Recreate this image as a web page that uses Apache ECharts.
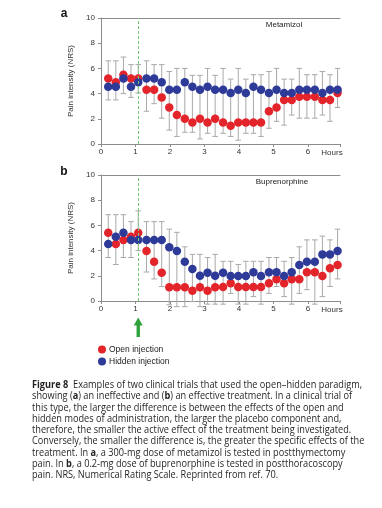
<!DOCTYPE html>
<html>
<head>
<meta charset="utf-8">
<script src="https://cdn.jsdelivr.net/npm/echarts@6/dist/echarts.min.js"></script>
<style>html,body{margin:0;padding:0;background:#fff}#c{width:382px;height:508px}</style>
</head>
<body>
<div id="c"></div>
<script>
// ---- data ----
const hours = [0.21,0.43,0.65,0.87,1.08,1.32,1.54,1.76,1.98,2.20,2.43,2.65,2.87,3.09,3.31,3.54,3.76,3.98,4.20,4.42,4.64,4.87,5.09,5.31,5.53,5.75,5.97,6.20,6.42,6.64,6.86];
const injectionHour = 1.08;
const xTicks = [0,1,2,3,4,5,6];
const yTicks = [0,2,4,6,8,10];
const seriesNames = ['Open injection','Hidden injection'];
const panelTitles = ['Metamizol','Buprenorphine'];

// panel a: metamizol
const openA   = [5.2,4.9,5.5,5.2,5.2,4.3,4.3,3.7,2.9,2.3,2.0,1.7,2.0,1.7,2.0,1.7,1.45,1.7,1.7,1.7,1.7,2.6,2.9,3.5,3.5,3.75,3.75,3.75,3.5,3.5,4.05];
const hiddenA = [4.55,4.55,5.2,4.55,4.9,5.2,5.2,4.9,4.3,4.3,4.9,4.55,4.3,4.55,4.3,4.3,4.05,4.3,4.05,4.55,4.3,4.05,4.3,4.05,4.05,4.3,4.3,4.3,4.05,4.3,4.3];
const errTopA = [6.6,6.6,6.9,6.3,6.3,6.6,6.3,6.3,5.75,6.0,6.0,5.45,5.45,6.0,5.45,6.0,5.15,6.0,5.15,5.5,5.5,5.75,6.0,5.15,5.15,6.0,5.5,5.5,5.75,5.5,6.0];
const errBotA = [3.5,3.5,4.0,3.7,4.05,2.6,3.2,2.05,1.1,0.6,0.93,0.93,0.4,0.85,0.6,0.85,0.6,0.3,0.85,0.85,0.6,1.25,1.8,1.5,2.3,2.05,2.05,2.05,2.3,1.8,2.9];

// panel b: buprenorphine
const openB   = [5.42,4.52,4.84,5.1,5.42,3.97,3.12,2.25,1.09,1.09,1.09,0.82,1.09,0.82,1.09,1.12,1.4,1.12,1.12,1.12,1.12,1.4,1.72,1.4,1.72,1.72,2.28,2.28,1.98,2.6,2.86];
const hiddenB = [4.52,5.1,5.42,4.84,4.84,4.84,4.84,4.84,4.26,3.97,3.12,2.54,2.0,2.25,2.0,2.25,1.98,1.98,1.98,2.28,1.98,2.28,2.28,1.98,2.28,2.86,3.12,3.12,3.7,3.7,3.97];
const errTopB = [6.85,6.85,6.85,6.3,7.15,6.3,6.3,6.3,5.7,5.45,4.3,3.7,3.7,3.45,3.7,3.15,3.15,2.9,3.15,3.15,3.15,3.45,3.45,3.15,3.45,4.3,4.85,4.85,5.15,4.85,5.7];
const errBotB = [3.45,2.9,3.45,3.45,4.0,2.3,1.75,1.15,-0.3,-0.45,-0.45,-0.05,-0.45,-0.25,-0.25,-0.25,0.6,-0.25,-0.25,0.35,-0.25,0.6,1.15,0.35,-0.25,0.6,0.9,-0.25,0.35,1.15,1.75];

const captionLines = [
  '{b|Figure 8}  Examples of two clinical trials that used the open\u2013hidden paradigm,',
  'showing ({b|a}) an ineffective and ({b|b}) an effective treatment. In a clinical trial of',
  'this type, the larger the difference is between the effects of the open and',
  'hidden modes of administration, the larger the placebo component and,',
  'therefore, the smaller the active effect of the treatment being investigated.',
  'Conversely, the smaller the difference is, the greater the specific effects of the',
  'treatment. In {b|a}, a 300-mg dose of metamizol is tested in postthymectomy',
  'pain. In {b|b}, a 0.2-mg dose of buprenorphine is tested in postthoracoscopy',
  'pain. NRS, Numerical Rating Scale. Reprinted from ref. 70.'
];

// ---- chart ----
const RED = '#e3242b', BLUE = '#2e3a98', GREY = '#a9a9a9', AXIS = '#8c8c8c';
const FONT = 'Liberation Sans';
const XMAX = 6.93;
const chart = echarts.init(document.getElementById('c'), null, {renderer:'canvas'});

const grids = [
  {left:101, top:18, width:239, height:126},
  {left:101, top:175, width:239, height:126}
];

function xAxisFor(gi){
  return {type:'value', gridIndex:gi, min:0, max:XMAX, interval:1,
    axisLine:{lineStyle:{color:AXIS, width:1}},
    axisTick:{show:true, length:3, lineStyle:{color:AXIS}},
    axisLabel:{color:'#333', fontSize:8, fontFamily:FONT, margin:4,
      formatter:v => xTicks.indexOf(v) >= 0 ? String(v) : ''},
    splitLine:{show:false}};
}
function topAxisFor(gi){
  return {type:'value', gridIndex:gi, position:'top', min:0, max:XMAX,
    axisLine:{show:true, lineStyle:{color:AXIS, width:1}},
    axisTick:{show:false}, axisLabel:{show:false}, splitLine:{show:false}};
}
function yAxisFor(gi){
  return {type:'value', gridIndex:gi, min:0, max:10, interval:2,
    name:'Pain intensity (NRS)', nameLocation:'middle', nameGap:19, nameRotate:90,
    nameTextStyle:{color:'#333', fontSize:8, fontFamily:FONT},
    axisLine:{show:true, lineStyle:{color:AXIS, width:1}},
    axisTick:{show:true, length:3, lineStyle:{color:AXIS}},
    axisLabel:{color:'#333', fontSize:8, fontFamily:FONT, margin:6,
      formatter:v => yTicks.indexOf(v) >= 0 ? String(v) : ''},
    splitLine:{show:false}};
}

function errRender(params, api){
  const x = api.value(0), lo = api.value(1), hi = api.value(2);
  const a = api.coord([x, lo]), b = api.coord([x, hi]);
  const w = 2.8;
  const st = {stroke:GREY, lineWidth:1};
  return {type:'group', children:[
    {type:'line', shape:{x1:a[0], y1:a[1], x2:b[0], y2:b[1]}, style:st},
    {type:'line', shape:{x1:a[0]-w, y1:a[1], x2:a[0]+w, y2:a[1]}, style:st},
    {type:'line', shape:{x1:b[0]-w, y1:b[1], x2:b[0]+w, y2:b[1]}, style:st}
  ]};
}

function panelSeries(gi, open, hidden, top, bot){
  return [
    {type:'custom', xAxisIndex:gi, yAxisIndex:gi, renderItem:errRender, silent:true, z:1,
     encode:{x:0, y:[1,2]}, data:hours.map((h,i)=>[h, bot[i], top[i]])},
    {type:'scatter', name:seriesNames[0], xAxisIndex:gi, yAxisIndex:gi, symbol:'circle', symbolSize:8.5, z:3,
     itemStyle:{color:RED, opacity:1}, data:hours.map((h,i)=>[h, open[i]]),
     markLine:{silent:true, symbol:['none','none'], label:{show:false},
       lineStyle:{color:'#74c874', type:[3,2], width:1}, data:[{xAxis:injectionHour}]}},
    {type:'scatter', name:seriesNames[1], xAxisIndex:gi, yAxisIndex:gi, symbol:'circle', symbolSize:8.5, z:4,
     itemStyle:{color:BLUE, opacity:1}, data:hours.map((h,i)=>[h, hidden[i]])}
  ];
}

const captionGraphics = captionLines.map((t,i)=>({
  type:'text', x:32, y:385 + i*11.3, scaleX:0.875,
  style:{text:t, fontSize:10.5, fontFamily:'Open Sans', fill:'#231f20', verticalAlign:'middle',
    rich:{b:{fontWeight:'bold', fontSize:10.5, fontFamily:'Open Sans', fill:'#231f20'}}}
}));

chart.setOption({
  animation:false,
  backgroundColor:'#fff',
  grid:grids,
  xAxis:[xAxisFor(0), xAxisFor(1), topAxisFor(0), topAxisFor(1)],
  yAxis:[yAxisFor(0), yAxisFor(1)],
  legend:{orient:'vertical', left:93, top:340, itemGap:3, itemWidth:8, itemHeight:8, icon:'circle',
    data:seriesNames, selectedMode:false,
    textStyle:{color:'#222', fontSize:8.5, fontFamily:FONT, padding:[0,0,0,-2]}},
  series:[].concat(panelSeries(0, openA, hiddenA, errTopA, errBotA), panelSeries(1, openB, hiddenB, errTopB, errBotB))
});

const arrowX = chart.convertToPixel({xAxisIndex:1}, injectionHour);
chart.setOption({graphic:[
  {type:'text', x:64, y:14, style:{text:'a', fontSize:12, fontWeight:'bold', fontFamily:FONT, fill:'#111', align:'center', verticalAlign:'middle'}},
  {type:'text', x:64, y:172, style:{text:'b', fontSize:12, fontWeight:'bold', fontFamily:FONT, fill:'#111', align:'center', verticalAlign:'middle'}},
  {type:'text', x:284, y:25, style:{text:panelTitles[0], fontSize:8, fontFamily:FONT, fill:'#222', align:'center', verticalAlign:'middle'}},
  {type:'text', x:282, y:182, style:{text:panelTitles[1], fontSize:8, fontFamily:FONT, fill:'#222', align:'center', verticalAlign:'middle'}},
  {type:'text', x:332, y:153, style:{text:'Hours', fontSize:8, fontFamily:FONT, fill:'#333', align:'center', verticalAlign:'middle'}},
  {type:'text', x:332, y:310, style:{text:'Hours', fontSize:8, fontFamily:FONT, fill:'#333', align:'center', verticalAlign:'middle'}},
  {type:'polygon', shape:{points:[[arrowX,317.5],[arrowX+4.5,325.5],[arrowX+1.7,325.5],[arrowX+1.7,337],[arrowX-1.7,337],[arrowX-1.7,325.5],[arrowX-4.5,325.5]]},
   style:{fill:'#2fa23a'}}
].concat(captionGraphics)});
</script>
</body>
</html>
